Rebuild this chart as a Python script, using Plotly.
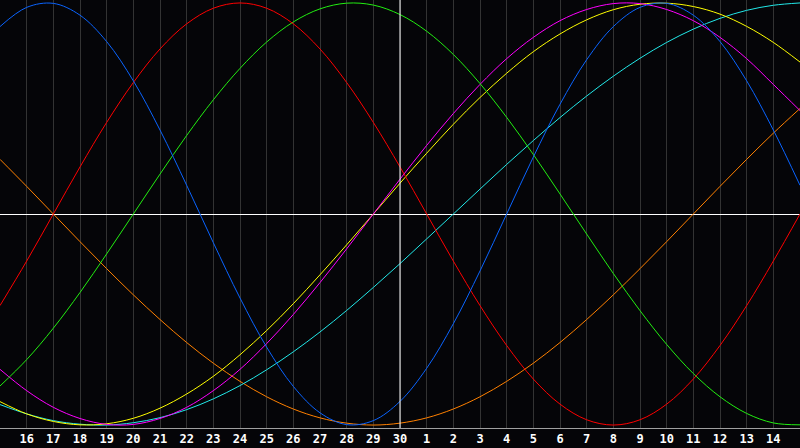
import plotly.graph_objects as go

# Day labels (x axis), one per day column of the chart
day_labels = ["15", "16", "17", "18", "19", "20", "21", "22", "23", "24", "25", "26", "27", "28", "29", "30",
              "1", "2", "3", "4", "5", "6", "7", "8", "9", "10", "11", "12", "13", "14", "15"]
today_label = "30"

# Cycle values per day (-1 .. 1)
red = [-0.434, -0.223, 0.000, 0.223, 0.434, 0.623, 0.782, 0.901, 0.975, 1.000, 0.975, 0.901, 0.782, 0.623, 0.434,
       0.223, 0.000, -0.223, -0.434, -0.623, -0.782, -0.901, -0.975, -1.000, -0.975, -0.901, -0.782, -0.623, -0.434,
       -0.223, 0.000]
blue = [0.888, 0.979, 0.998, 0.942, 0.817, 0.631, 0.398, 0.136, -0.136, -0.398, -0.631, -0.817, -0.942, -0.998,
        -0.979, -0.888, -0.731, -0.520, -0.270, 0.000, 0.270, 0.520, 0.731, 0.888, 0.979, 0.998, 0.942, 0.817, 0.631,
        0.398, 0.136]
green = [-0.815, -0.690, -0.541, -0.372, -0.189, 0.000, 0.189, 0.372, 0.541, 0.690, 0.815, 0.910, 0.972, 0.999,
         0.990, 0.945, 0.866, 0.756, 0.618, 0.458, 0.282, 0.095, -0.095, -0.282, -0.458, -0.618, -0.756, -0.866,
         -0.945, -0.990, -0.999]
orange = [0.259, 0.131, 0.000, -0.131, -0.259, -0.383, -0.500, -0.609, -0.707, -0.793, -0.866, -0.924, -0.966,
          -0.991, -1.000, -0.991, -0.966, -0.924, -0.866, -0.793, -0.707, -0.609, -0.500, -0.383, -0.259, -0.131,
          0.000, 0.131, 0.259, 0.383, 0.500]
cyan = [-0.903, -0.947, -0.979, -0.996, -1.000, -0.989, -0.965, -0.927, -0.876, -0.813, -0.738, -0.653, -0.559,
        -0.457, -0.348, -0.235, -0.118, 0.000, 0.118, 0.235, 0.348, 0.457, 0.559, 0.653, 0.738, 0.813, 0.876, 0.927,
        0.965, 0.989, 1.000]
yellow = [-0.889, -0.947, -0.983, -0.999, -0.994, -0.968, -0.920, -0.853, -0.769, -0.667, -0.552, -0.425, -0.288,
          -0.146, 0.000, 0.146, 0.288, 0.425, 0.552, 0.667, 0.769, 0.853, 0.920, 0.968, 0.994, 0.999, 0.983, 0.947,
          0.889, 0.813, 0.720]
magenta = [-0.736, -0.837, -0.916, -0.969, -0.997, -0.997, -0.969, -0.916, -0.837, -0.736, -0.614, -0.476, -0.325,
           -0.165, 0.000, 0.165, 0.325, 0.476, 0.614, 0.736, 0.837, 0.916, 0.969, 0.997, 0.997, 0.969, 0.916, 0.837,
           0.736, 0.614, 0.490]

series = [
    ("orange", orange, "#ff8000"),
    ("cyan", cyan, "#22e8e8"),
    ("yellow", yellow, "#ffff00"),
    ("magenta", magenta, "#ff00ff"),
    ("green", green, "#22ee11"),
    ("red", red, "#ff0000"),
    ("blue", blue, "#0a64ff"),
]

days = list(range(len(day_labels)))

fig = go.Figure()
for name, vals, col in series:
    fig.add_trace(go.Scatter(x=days, y=vals, mode="lines", name=name,
                             line=dict(color=col, width=1, shape="spline", smoothing=1.0),
                             hoverinfo="skip"))

today_idx = day_labels.index(today_label)
fig.add_vline(x=today_idx, line=dict(color="#ffffff", width=1), layer="above")

fig.update_layout(
    width=800, height=448,
    margin=dict(l=0, r=0, t=0, b=20, pad=0),
    paper_bgcolor="#050508",
    plot_bgcolor="#050508",
    showlegend=False,
    xaxis=dict(
        range=[0, len(day_labels) - 1],
        tickmode="array",
        tickvals=days[1:-1],
        ticktext=day_labels[1:-1],
        showgrid=True, gridcolor="#333333", gridwidth=1,
        zeroline=False,
        showline=True, linecolor="#a0a0a0", linewidth=1, mirror=True,
        ticks="", ticklen=0,
        tickfont=dict(family="DejaVu Sans Mono", size=12, color="#ffffff", weight="bold"),
    ),
    yaxis=dict(
        range=[-1.014, 1.014],
        showgrid=False,
        zeroline=True, zerolinecolor="#ffffff", zerolinewidth=1,
        showline=True, linecolor="#909090", linewidth=1, mirror=True,
        showticklabels=False, ticks="",
    ),
)

fig.write_html("out.html", config={"displayModeBar": False, "staticPlot": True},
               post_script="document.body.style.margin='0';document.body.style.overflow='hidden';")
